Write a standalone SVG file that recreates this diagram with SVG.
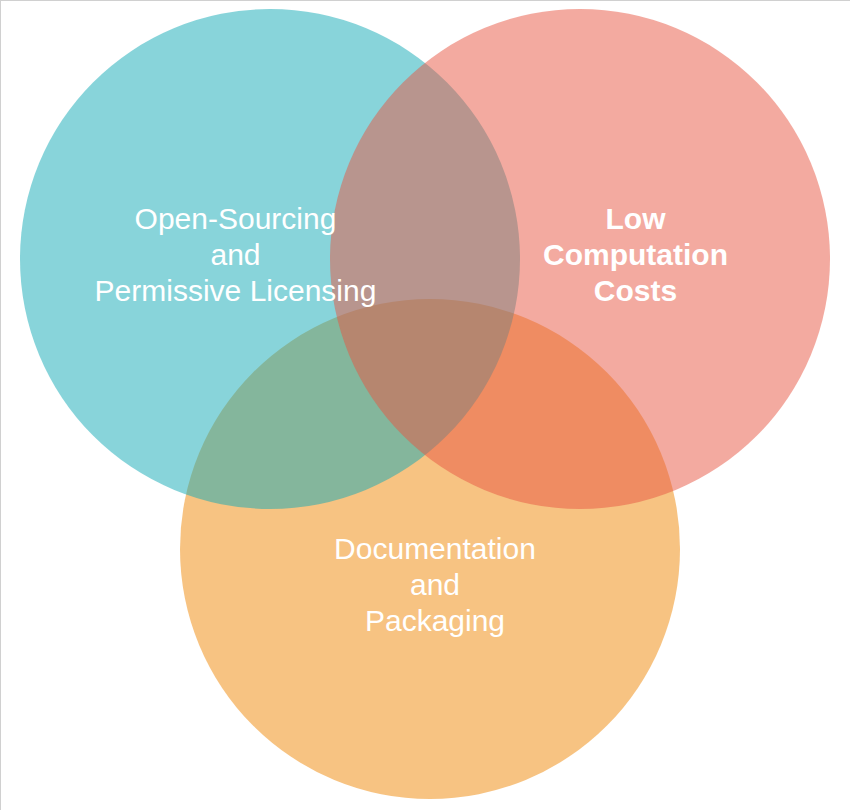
<svg xmlns="http://www.w3.org/2000/svg" width="850" height="810" viewBox="0 0 850 810">
  <style>
    .set { stroke: none; fill-opacity: 0.5; }
    .label { fill: #ffffff; font-family: "Liberation Sans", Arial, sans-serif; font-size: 30px; text-anchor: middle; }
    .bold { font-weight: bold; }
  </style>
  <rect x="0" y="0" width="850" height="810" fill="#ffffff"/>
  <rect x="0.5" y="0.5" width="900" height="900" fill="none" stroke="#d0d0d0" stroke-width="1"/>

  <!-- documentation and packaging -->
  <g id="docs">
    <circle class="set" cx="430" cy="549" r="250" fill="#f08705"/>
  </g>
  <!-- open sourcing and licensing -->
  <g id="open">
    <circle class="set" cx="270" cy="259" r="250" fill="#12aab5"/>
  </g>
  <!-- low computation costs -->
  <g id="costs">
    <circle class="set" cx="580" cy="259" r="250" fill="#e85642"/>
  </g>

  <g id="labels">
    <text class="label" x="235.5" y="229">Open-Sourcing</text>
    <text class="label" x="235.5" y="265">and</text>
    <text class="label" x="235.5" y="301">Permissive Licensing</text>

    <text class="label bold" x="635.5" y="229">Low</text>
    <text class="label bold" x="635.5" y="265">Computation</text>
    <text class="label bold" x="635.5" y="301">Costs</text>

    <text class="label" x="435" y="559">Documentation</text>
    <text class="label" x="435" y="595">and</text>
    <text class="label" x="435" y="631">Packaging</text>
  </g>
</svg>
